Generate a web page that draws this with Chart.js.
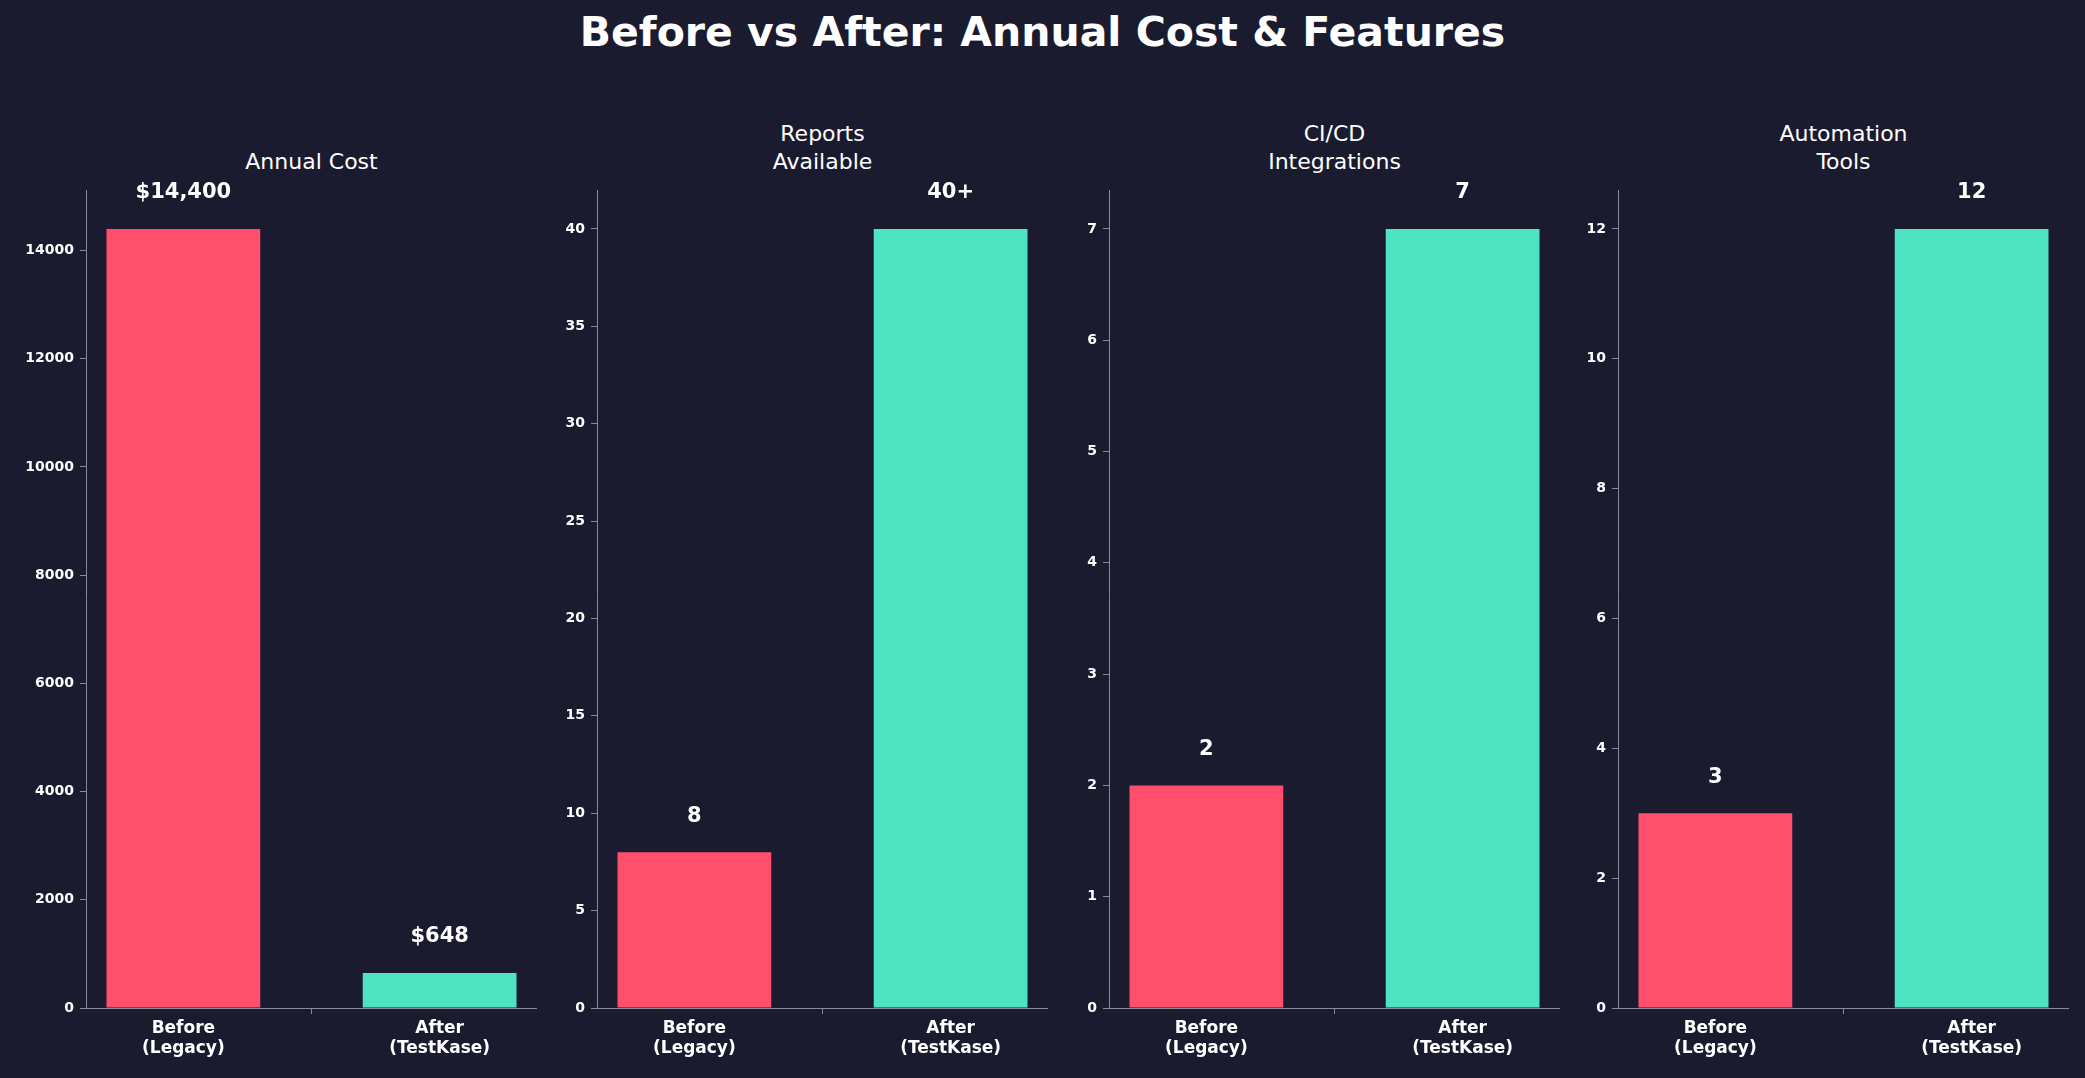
<!DOCTYPE html>
<html><head><meta charset="utf-8">
<script src="https://cdn.jsdelivr.net/npm/chart.js@4/dist/chart.umd.min.js"></script>
<style>
body{margin:0;width:2085px;height:1078px;background:#1b1b2f;overflow:hidden;position:relative;font-family:"DejaVu Sans",sans-serif;color:#fff}
#title{position:absolute;top:8px;width:100%;text-align:center;font-weight:bold;font-size:41px}
.st{position:absolute;text-align:center;font-size:22px;line-height:28px}
.cw{position:absolute;top:150px;height:928px}
</style></head><body>
<div id="title">Before vs After: Annual Cost &amp; Features</div>
<script>
const categories = [["Before","(Legacy)"],["After","(TestKase)"]];
const panelTitles = [["Annual Cost"],["Reports","Available"],["CI/CD","Integrations"],["Automation","Tools"]];
const costValues = [14400, 648];
const reportValues = [8, 40];
const cicdValues = [2, 7];
const autoValues = [3, 12];
const valueLabels = [["$14,400","$648"],["8","40+"],["2","7"],["3","12"]];
const yMax = [15120, 42, 7.35, 12.6];
const yStep = [2000, 5, 1, 2];
const series = [costValues, reportValues, cicdValues, autoValues];
const colors = ["#ff4f6d", "#4ee4c1"];
const axisLeft = [86, 597, 1109, 1618];
const axisW = 451;
const yW = 70;

const labelPlugin = {
  id:'vl',
  afterDatasetsDraw(chart){
    const ctx = chart.ctx, idx = chart.options.plugins.vl.idx;
    const meta = chart.getDatasetMeta(0);
    ctx.save();
    ctx.fillStyle='#fff';ctx.font='bold 21px "DejaVu Sans"';ctx.textAlign='center';ctx.textBaseline='middle';
    meta.data.forEach((b,i)=>{ctx.fillText(valueLabels[idx][i], b.x, b.y-36);});
    ctx.restore();
  }
};

for(let p=0;p<4;p++){
  const st=document.createElement('div');st.className='st';
  st.style.left=axisLeft[p]+'px';st.style.width=axisW+'px';
  st.style.top=(panelTitles[p].length==2?120:148)+'px';
  st.innerHTML=panelTitles[p].join('<br>');
  document.body.appendChild(st);
  const cw=document.createElement('div');cw.className='cw';
  cw.style.left=(axisLeft[p]-yW)+'px';cw.style.width=(axisW+yW)+'px';
  const cv=document.createElement('canvas');cw.appendChild(cv);document.body.appendChild(cw);
  new Chart(cv,{
    type:'bar',
    data:{datasets:[{data:series[p].map((v,i)=>({x:i,y:v})),backgroundColor:colors,barPercentage:0.6,categoryPercentage:1}]},
    options:{
      responsive:true,maintainAspectRatio:false,animation:false,
      layout:{padding:{top:40,right:0,left:0,bottom:0}},
      plugins:{legend:{display:false},tooltip:{enabled:false},vl:{idx:p}},
      scales:{
        x:{type:'linear',min:-0.38,max:1.38,offset:false,
          afterBuildTicks(s){s.ticks=[{value:0},{value:1}];},
          afterFit(s){s.height=70;},
          ticks:{color:'#fff',font:{weight:'bold',size:17,family:'DejaVu Sans'},callback:(v)=>categories[v],autoSkip:false,maxRotation:0,padding:4},
          grid:{drawOnChartArea:false,drawTicks:true,tickLength:6,color:'#8a8a9a'},
          border:{color:'#8a8a9a'}},
        y:{min:0,max:yMax[p],
          afterBuildTicks(s){const t=[];for(let v=0;v<=yMax[p]+1e-9;v+=yStep[p])t.push({value:v});s.ticks=t;},
          afterFit(s){s.width=yW;},
          ticks:{color:'#fff',font:{weight:'bold',size:14,family:'DejaVu Sans'},callback:v=>String(v),padding:6},
          grid:{drawOnChartArea:false,drawTicks:true,tickLength:6,color:'#8a8a9a'},
          border:{color:'#8a8a9a'}}
      }
    },
    plugins:[labelPlugin]
  });
}
</script>
</body></html>
